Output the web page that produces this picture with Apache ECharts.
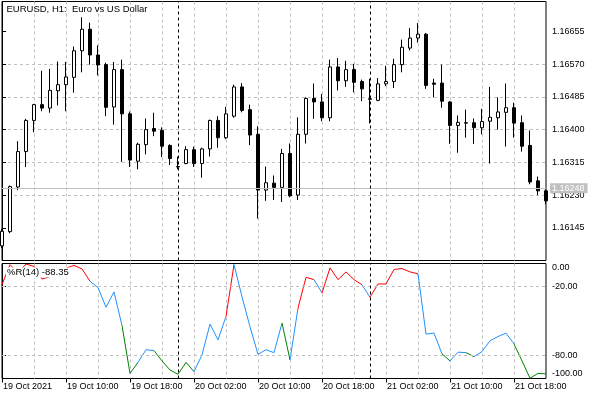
<!DOCTYPE html>
<html><head><meta charset="utf-8">
<script src="https://cdn.jsdelivr.net/npm/echarts@6/dist/echarts.min.js"></script>
<style>html,body{margin:0;padding:0;background:#fff}#c{width:600px;height:400px}</style>
</head><body><div id="c"></div>
<script>
const chartTitle = 'EURUSD, H1:  Euro vs US Dollar';
const indicatorTitle = '%R(14) -88.35';
const timeLabels = ['19 Oct 2021','19 Oct 10:00','19 Oct 18:00','20 Oct 02:00','20 Oct 10:00','20 Oct 18:00','21 Oct 02:00','21 Oct 10:00','21 Oct 18:00'];
const timeLabelBars = [0,8,16,24,32,40,48,56,64];
const daySeparatorBars = [22,46];
const priceTicks = [1.16145,1.16230,1.16315,1.16400,1.16485,1.16570,1.16655];
const wprTicks = [0,-20,-80,-100];
const wprLevels = [-20,-80];
const bidPrice = 1.16248;

const opens = [1.16098,1.16135,1.16251,1.16343,1.16424,1.16465,1.16456,1.16501,1.16517,1.16536,
1.16605,1.16661,1.16594,1.16569,1.16459,1.16556,1.16441,1.16318,1.16361,1.16403,
1.16398,1.16359,1.16303,1.16312,1.16348,1.16312,1.16350,1.16424,1.16379,1.16435,
1.16511,1.16452,1.16388,1.16243,1.16261,1.16250,1.16338,1.16230,1.16388,1.16481,
1.16472,1.16431,1.16563,1.16527,1.16556,1.16525,1.16480,1.16476,1.16519,1.16525,
1.16569,1.16612,1.16638,1.16648,1.16521,1.16521,1.16472,1.16411,1.16418,1.16418,
1.16405,1.16422,1.16431,1.16445,1.16457,1.16418,1.16359,1.16267,1.16241];
const closes = [1.16136,1.16252,1.16343,1.16424,1.16465,1.16456,1.16502,1.16517,1.16537,1.16605,
1.16661,1.16594,1.16568,1.16458,1.16556,1.16441,1.16321,1.16362,1.16400,1.16396,
1.16357,1.16325,1.16304,1.16348,1.16312,1.16350,1.16424,1.16379,1.16441,1.16511,
1.16450,1.16386,1.16243,1.16262,1.16250,1.16338,1.16228,1.16388,1.16481,1.16472,
1.16431,1.16563,1.16527,1.16556,1.16523,1.16506,1.16479,1.16519,1.16525,1.16569,
1.16614,1.16638,1.16648,1.16515,1.16518,1.16474,1.16411,1.16419,1.16417,1.16405,
1.16421,1.16432,1.16446,1.16457,1.16417,1.16357,1.16264,1.16241,1.16215];
const highs = [1.16142,1.16255,1.16370,1.16428,1.16467,1.16553,1.16558,1.16577,1.16576,1.16616,
1.16692,1.16678,1.16619,1.16574,1.16576,1.16582,1.16447,1.16366,1.16429,1.16444,
1.16406,1.16362,1.16330,1.16357,1.16356,1.16353,1.16426,1.16435,1.16459,1.16517,
1.16521,1.16465,1.16409,1.16304,1.16281,1.16350,1.16364,1.16432,1.16484,1.16520,
1.16493,1.16582,1.16586,1.16579,1.16571,1.16530,1.16532,1.16534,1.16566,1.16584,
1.16634,1.16664,1.16677,1.16651,1.16532,1.16569,1.16474,1.16437,1.16452,1.16429,
1.16454,1.16511,1.16484,1.16520,1.16470,1.16437,1.16398,1.16278,1.16245];
const lows = [1.16092,1.16131,1.16243,1.16303,1.16393,1.16448,1.16444,1.16463,1.16448,1.16496,
1.16549,1.16569,1.16541,1.16435,1.16413,1.16316,1.16303,1.16297,1.16336,1.16383,
1.16329,1.16308,1.16297,1.16310,1.16303,1.16275,1.16330,1.16353,1.16375,1.16431,
1.16445,1.16360,1.16169,1.16215,1.16217,1.16212,1.16224,1.16217,1.16364,1.16428,
1.16422,1.16422,1.16502,1.16511,1.16497,1.16474,1.16416,1.16474,1.16513,1.16508,
1.16549,1.16606,1.16626,1.16506,1.16484,1.16457,1.16363,1.16340,1.16379,1.16363,
1.16388,1.16312,1.16400,1.16356,1.16379,1.16343,1.16258,1.16230,1.16206];
const wprValues = [-18.3,-1,-8,-0.5,-2.5,-13.5,-11.5,-9,-4,-1.7,
-4.7,-15.4,-21,-38,-24.7,-54,-95.5,-86,-75,-75.7,
-84.7,-92.6,-96.3,-86,-94,-79.5,-52.7,-66.4,-46,-0.9,
-29,-55,-79,-75,-77.5,-51.8,-83.8,-38.7,-12,-14,
-25.6,-3.8,-14,-7.3,-14,-18.5,-29.4,-17.8,-17.8,-5.2,
-4.4,-7.3,-9,-61.4,-60.5,-78.6,-84.7,-77.1,-77.5,-81,
-76.6,-67.2,-63.5,-60.5,-70,-84.7,-99.8,-95.5,-96];

const font = '"Liberation Sans", Arial, sans-serif';
const candleData = opens.map((o, k) => [k, o, closes[k], lows[k], highs[k]]);
const wprData = wprValues.map((v, k) => [k, v]);
function wprColor(v) { return v > -20 ? '#ff0000' : (v < -80 ? '#008000' : '#1e90ff'); }
const pieces = [{lte: 0, color: wprColor(wprValues[0])}];
for (let k = 1; k < wprValues.length; k++) pieces.push({gt: k - 1, lte: k, color: wprColor(wprValues[k])});

const gridLine = {show: true, showMinLine: false, showMaxLine: false, lineStyle: {color: '#c0c0c0', type: [3, 3], width: 1}};
const sepLine = {color: '#000', type: [3, 3], width: 1};
const lastBar = opens.length - 1;

const chart = echarts.init(document.getElementById('c'), null, {renderer: 'canvas'});
chart.setOption({
  animation: false,
  backgroundColor: '#fff',
  textStyle: {fontFamily: font},
  title: [
    {text: chartTitle, left: 6.5, top: 4.5, padding: 0, textStyle: {fontSize: 9.5, fontWeight: 'normal', color: '#000', fontFamily: font}},
    {text: indicatorTitle, left: 6, top: 267.5, padding: [0, 1], backgroundColor: '#fff', textStyle: {fontSize: 9.5, fontWeight: 'normal', color: '#000', fontFamily: font}}
  ],
  grid: [
    {left: 2, right: 54, top: 1.5, height: 259, show: true, borderColor: '#000', borderWidth: 1, backgroundColor: '#fff', containLabel: false, outerBoundsMode: 'none'},
    {left: 2, right: 54, top: 263.5, height: 115, show: true, borderColor: '#000', borderWidth: 1, backgroundColor: '#fff', containLabel: false, outerBoundsMode: 'none'}
  ],
  xAxis: [
    {type: 'value', gridIndex: 0, min: 0, max: lastBar, interval: 4, axisLine: {show: false}, axisTick: {show: false}, axisLabel: {show: false}, splitLine: gridLine},
    {type: 'value', gridIndex: 1, min: 0, max: lastBar, interval: 4, axisLine: {show: false}, axisTick: {show: false}, axisLabel: {show: false}, splitLine: gridLine},
    {type: 'value', gridIndex: 1, min: 0, max: lastBar, position: 'bottom', axisLine: {show: false},
     axisTick: {show: true, customValues: timeLabelBars, length: 4, inside: false, lineStyle: {color: '#000', width: 1}},
     axisLabel: {show: true, customValues: timeLabelBars, formatter: v => timeLabels[timeLabelBars.indexOf(Math.round(v))] || '',
       align: 'left', margin: 4, fontSize: 9, color: '#000', fontFamily: font, padding: [0, 0, 0, 1]},
     splitLine: {show: false}}
  ],
  yAxis: [
    {type: 'value', gridIndex: 0, position: 'right', min: 1.16060, max: 1.16733, interval: 0.00085,
     axisLine: {show: true, lineStyle: {color: '#000', width: 1}},
     axisTick: {show: true, length: 4, customValues: priceTicks, lineStyle: {color: '#000'}},
     axisLabel: {show: true, customValues: priceTicks, formatter: v => v.toFixed(5), margin: 6, fontSize: 9, color: '#000', fontFamily: font},
     splitLine: gridLine},
    {type: 'value', gridIndex: 1, position: 'right', min: -100, max: 0,
     axisLine: {show: true, lineStyle: {color: '#000', width: 1}},
     axisTick: {show: true, length: 4, customValues: wprLevels, lineStyle: {color: '#000'}},
     axisLabel: {show: true, customValues: wprTicks, margin: 6, fontSize: 9, color: '#000', fontFamily: font,
       formatter: v => v === 0 ? '{dn|0.00}' : (v === -100 ? '{up|-100.00}' : v.toFixed(2)),
       rich: {dn: {padding: [9, 0, 0, 0], fontSize: 9, color: '#000', fontFamily: font}, up: {padding: [0, 0, 9, 0], fontSize: 9, color: '#000', fontFamily: font}}},
     splitLine: {show: false}}
  ],
  visualMap: [{type: 'piecewise', show: false, seriesIndex: 1, dimension: 0, pieces: pieces, outOfRange: {color: '#1e90ff'}}],
  series: [
    {type: 'candlestick', xAxisIndex: 0, yAxisIndex: 0, data: candleData, barWidth: 4, clip: true,
     itemStyle: {color: '#ffffff', color0: '#000000', borderColor: '#000000', borderColor0: '#000000', borderWidth: 1},
     markLine: {silent: true, symbol: 'none', animation: false, precision: 5, label: {show: false},
       data: [
         {yAxis: bidPrice, lineStyle: {color: '#c0c0c0', type: 'solid', width: 1},
          label: {show: true, position: 'end', distance: 4, formatter: bidPrice.toFixed(5), color: '#ffffff', backgroundColor: '#c0c0c0', padding: [1, 3, 0, 2], fontSize: 9, fontFamily: font}},
         ...daySeparatorBars.map(b => ({xAxis: b, lineStyle: sepLine}))
       ]}},
    {type: 'line', xAxisIndex: 1, yAxisIndex: 1, data: wprData, showSymbol: false, symbol: 'none', lineStyle: {width: 1}, clip: true,
     markLine: {silent: true, symbol: 'none', animation: false, precision: 2, label: {show: false},
       data: [
         ...wprLevels.map(v => ({yAxis: v, lineStyle: {color: '#c0c0c0', type: [3, 3], width: 1}})),
         ...daySeparatorBars.map(b => ({xAxis: b, lineStyle: sepLine}))
       ]}}
  ]
});
</script>
</body></html>
